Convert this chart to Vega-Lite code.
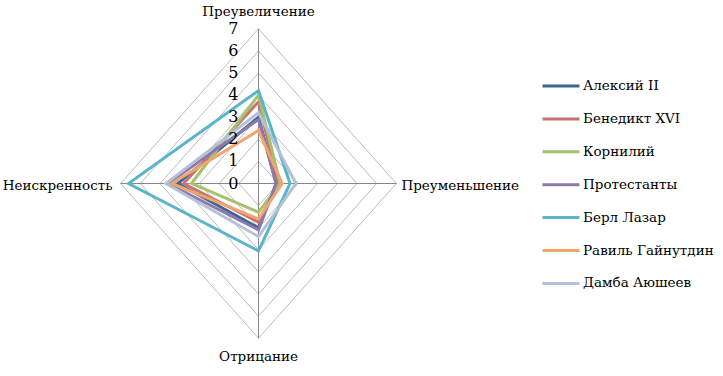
{
  "$schema": "https://vega.github.io/schema/vega-lite/v6.json",
  "width": 723,
  "height": 376,
  "autosize": "none",
  "padding": 0,
  "background": "white",
  "config": {"view": {"stroke": null}, "font": "DejaVu Serif"},
  "datasets": {
    "series": [
      {"s": "Алексий II", "ax": "Преувеличение", "o": 0, "v": 3.0},
      {"s": "Алексий II", "ax": "Преуменьшение", "o": 1, "v": 0.9},
      {"s": "Алексий II", "ax": "Отрицание", "o": 2, "v": 2.0},
      {"s": "Алексий II", "ax": "Неискренность", "o": 3, "v": 4.1},
      {"s": "Бенедикт XVI", "ax": "Преувеличение", "o": 0, "v": 3.7},
      {"s": "Бенедикт XVI", "ax": "Преуменьшение", "o": 1, "v": 1.0},
      {"s": "Бенедикт XVI", "ax": "Отрицание", "o": 2, "v": 1.75},
      {"s": "Бенедикт XVI", "ax": "Неискренность", "o": 3, "v": 3.8},
      {"s": "Корнилий", "ax": "Преувеличение", "o": 0, "v": 4.0},
      {"s": "Корнилий", "ax": "Преуменьшение", "o": 1, "v": 1.1},
      {"s": "Корнилий", "ax": "Отрицание", "o": 2, "v": 1.3},
      {"s": "Корнилий", "ax": "Неискренность", "o": 3, "v": 3.4},
      {"s": "Протестанты", "ax": "Преувеличение", "o": 0, "v": 2.9},
      {"s": "Протестанты", "ax": "Преуменьшение", "o": 1, "v": 0.9},
      {"s": "Протестанты", "ax": "Отрицание", "o": 2, "v": 2.1},
      {"s": "Протестанты", "ax": "Неискренность", "o": 3, "v": 4.6},
      {"s": "Берл Лазар", "ax": "Преувеличение", "o": 0, "v": 4.2},
      {"s": "Берл Лазар", "ax": "Преуменьшение", "o": 1, "v": 1.6},
      {"s": "Берл Лазар", "ax": "Отрицание", "o": 2, "v": 3.05},
      {"s": "Берл Лазар", "ax": "Неискренность", "o": 3, "v": 6.6},
      {"s": "Равиль Гайнутдин", "ax": "Преувеличение", "o": 0, "v": 2.4},
      {"s": "Равиль Гайнутдин", "ax": "Преуменьшение", "o": 1, "v": 1.2},
      {"s": "Равиль Гайнутдин", "ax": "Отрицание", "o": 2, "v": 1.6},
      {"s": "Равиль Гайнутдин", "ax": "Неискренность", "o": 3, "v": 4.4},
      {"s": "Дамба Аюшеев", "ax": "Преувеличение", "o": 0, "v": 3.2},
      {"s": "Дамба Аюшеев", "ax": "Преуменьшение", "o": 1, "v": 1.9},
      {"s": "Дамба Аюшеев", "ax": "Отрицание", "o": 2, "v": 2.4},
      {"s": "Дамба Аюшеев", "ax": "Неискренность", "o": 3, "v": 4.7}
    ],
    "grid": [
      {"v": 1, "ax": "Преувеличение", "o": 0}, {"v": 1, "ax": "Преуменьшение", "o": 1}, {"v": 1, "ax": "Отрицание", "o": 2}, {"v": 1, "ax": "Неискренность", "o": 3},
      {"v": 2, "ax": "Преувеличение", "o": 0}, {"v": 2, "ax": "Преуменьшение", "o": 1}, {"v": 2, "ax": "Отрицание", "o": 2}, {"v": 2, "ax": "Неискренность", "o": 3},
      {"v": 3, "ax": "Преувеличение", "o": 0}, {"v": 3, "ax": "Преуменьшение", "o": 1}, {"v": 3, "ax": "Отрицание", "o": 2}, {"v": 3, "ax": "Неискренность", "o": 3},
      {"v": 4, "ax": "Преувеличение", "o": 0}, {"v": 4, "ax": "Преуменьшение", "o": 1}, {"v": 4, "ax": "Отрицание", "o": 2}, {"v": 4, "ax": "Неискренность", "o": 3},
      {"v": 5, "ax": "Преувеличение", "o": 0}, {"v": 5, "ax": "Преуменьшение", "o": 1}, {"v": 5, "ax": "Отрицание", "o": 2}, {"v": 5, "ax": "Неискренность", "o": 3},
      {"v": 6, "ax": "Преувеличение", "o": 0}, {"v": 6, "ax": "Преуменьшение", "o": 1}, {"v": 6, "ax": "Отрицание", "o": 2}, {"v": 6, "ax": "Неискренность", "o": 3},
      {"v": 7, "ax": "Преувеличение", "o": 0}, {"v": 7, "ax": "Преуменьшение", "o": 1}, {"v": 7, "ax": "Отрицание", "o": 2}, {"v": 7, "ax": "Неискренность", "o": 3}
    ],
    "spokes": [
      {"v": 7, "ax": "Преувеличение"}, {"v": 7, "ax": "Преуменьшение"}, {"v": 7, "ax": "Отрицание"}, {"v": 7, "ax": "Неискренность"}
    ],
    "ticks": [
      {"t": 0}, {"t": 1}, {"t": 2}, {"t": 3}, {"t": 4}, {"t": 5}, {"t": 6}, {"t": 7}
    ],
    "labels": [
      {"t": "Преувеличение", "ax": "Преувеличение", "v": 7},
      {"t": "Преуменьшение", "ax": "Преуменьшение", "v": 7},
      {"t": "Отрицание", "ax": "Отрицание", "v": 7},
      {"t": "Неискренность", "ax": "Неискренность", "v": 7}
    ]
  },
  "layer": [
    {
      "data": {"name": "grid"},
      "transform": [
        {"calculate": "datum.ax === 'Преуменьшение' ? datum.v : (datum.ax === 'Неискренность' ? -datum.v : 0)", "as": "px"},
        {"calculate": "datum.ax === 'Преувеличение' ? datum.v : (datum.ax === 'Отрицание' ? -datum.v : 0)", "as": "py"}
      ],
      "mark": {"type": "line", "interpolate": "linear-closed", "stroke": "#A8A8A8", "strokeWidth": 0.8},
      "encoding": {
        "x": {"field": "px", "type": "quantitative", "scale": {"domain": [-13.122, 23.579], "nice": false, "zero": false}, "axis": null},
        "y": {"field": "py", "type": "quantitative", "scale": {"domain": [-8.71, 8.303], "nice": false, "zero": false}, "axis": null},
        "detail": {"field": "v", "type": "nominal"},
        "order": {"field": "o", "type": "quantitative"}
      }
    },
    {
      "data": {"name": "spokes"},
      "transform": [
        {"calculate": "datum.ax === 'Преуменьшение' ? datum.v : (datum.ax === 'Неискренность' ? -datum.v : 0)", "as": "px"},
        {"calculate": "datum.ax === 'Преувеличение' ? datum.v : (datum.ax === 'Отрицание' ? -datum.v : 0)", "as": "py"},
        {"calculate": "0", "as": "z"}
      ],
      "mark": {"type": "rule", "stroke": "#868686", "strokeWidth": 1},
      "encoding": {
        "x": {"field": "z", "type": "quantitative", "scale": {"domain": [-13.122, 23.579], "nice": false, "zero": false}, "axis": null},
        "y": {"field": "z", "type": "quantitative", "scale": {"domain": [-8.71, 8.303], "nice": false, "zero": false}, "axis": null},
        "x2": {"field": "px"},
        "y2": {"field": "py"}
      }
    },
    {
      "data": {"name": "series"},
      "transform": [
        {"calculate": "datum.ax === 'Преуменьшение' ? datum.v : (datum.ax === 'Неискренность' ? -datum.v : 0)", "as": "px"},
        {"calculate": "datum.ax === 'Преувеличение' ? datum.v : (datum.ax === 'Отрицание' ? -datum.v : 0)", "as": "py"}
      ],
      "mark": {"type": "line", "interpolate": "linear-closed", "strokeWidth": 3, "strokeJoin": "miter"},
      "encoding": {
        "x": {"field": "px", "type": "quantitative", "scale": {"domain": [-13.122, 23.579], "nice": false, "zero": false}, "axis": null},
        "y": {"field": "py", "type": "quantitative", "scale": {"domain": [-8.71, 8.303], "nice": false, "zero": false}, "axis": null},
        "order": {"field": "o", "type": "quantitative"},
        "color": {
          "field": "s",
          "type": "nominal",
          "scale": {
            "domain": ["Алексий II", "Бенедикт XVI", "Корнилий", "Протестанты", "Берл Лазар", "Равиль Гайнутдин", "Дамба Аюшеев"],
            "range": ["#3D6592", "#C77372", "#A6C26A", "#8B79AE", "#5CB4CB", "#F3A36E", "#B3C1D6"]
          },
          "legend": {
            "orient": "none",
            "legendX": 541,
            "legendY": 66,
            "title": null,
            "symbolType": "stroke",
            "symbolSize": 1369,
            "symbolStrokeWidth": 3,
            "labelFont": "DejaVu Serif",
            "labelFontSize": 13.5,
            "labelColor": "black",
            "labelLimit": 0,
            "labelOffset": 2,
            "rowPadding": 5.9
          }
        }
      }
    },
    {
      "data": {"name": "ticks"},
      "mark": {"type": "text", "align": "right", "baseline": "middle", "dx": -20, "fontSize": 16, "font": "DejaVu Serif", "color": "black"},
      "encoding": {
        "x": {"datum": 0, "type": "quantitative", "scale": {"domain": [-13.122, 23.579], "nice": false, "zero": false}, "axis": null},
        "y": {"field": "t", "type": "quantitative", "scale": {"domain": [-8.71, 8.303], "nice": false, "zero": false}, "axis": null},
        "text": {"field": "t", "type": "quantitative"}
      }
    },
    {
      "data": {"name": "labels"},
      "transform": [{"filter": "datum.ax === 'Преувеличение'"}, {"calculate": "0", "as": "px"}],
      "mark": {"type": "text", "align": "center", "baseline": "middle", "dy": -17, "fontSize": 13.5, "font": "DejaVu Serif", "color": "black"},
      "encoding": {
        "x": {"field": "px", "type": "quantitative", "scale": {"domain": [-13.122, 23.579], "nice": false, "zero": false}, "axis": null},
        "y": {"field": "v", "type": "quantitative", "scale": {"domain": [-8.71, 8.303], "nice": false, "zero": false}, "axis": null},
        "text": {"field": "t", "type": "nominal"}
      }
    },
    {
      "data": {"name": "labels"},
      "transform": [{"filter": "datum.ax === 'Преуменьшение'"}, {"calculate": "0", "as": "py"}],
      "mark": {"type": "text", "align": "left", "baseline": "middle", "dx": 5, "dy": 2, "fontSize": 13.5, "font": "DejaVu Serif", "color": "black"},
      "encoding": {
        "x": {"field": "v", "type": "quantitative", "scale": {"domain": [-13.122, 23.579], "nice": false, "zero": false}, "axis": null},
        "y": {"field": "py", "type": "quantitative", "scale": {"domain": [-8.71, 8.303], "nice": false, "zero": false}, "axis": null},
        "text": {"field": "t", "type": "nominal"}
      }
    },
    {
      "data": {"name": "labels"},
      "transform": [{"filter": "datum.ax === 'Отрицание'"}, {"calculate": "0", "as": "px"}, {"calculate": "-datum.v", "as": "py"}],
      "mark": {"type": "text", "align": "center", "baseline": "middle", "dy": 19, "fontSize": 13.5, "font": "DejaVu Serif", "color": "black"},
      "encoding": {
        "x": {"field": "px", "type": "quantitative", "scale": {"domain": [-13.122, 23.579], "nice": false, "zero": false}, "axis": null},
        "y": {"field": "py", "type": "quantitative", "scale": {"domain": [-8.71, 8.303], "nice": false, "zero": false}, "axis": null},
        "text": {"field": "t", "type": "nominal"}
      }
    },
    {
      "data": {"name": "labels"},
      "transform": [{"filter": "datum.ax === 'Неискренность'"}, {"calculate": "-datum.v", "as": "px"}, {"calculate": "0", "as": "py"}],
      "mark": {"type": "text", "align": "right", "baseline": "middle", "dx": -8, "dy": 2, "fontSize": 13.5, "font": "DejaVu Serif", "color": "black"},
      "encoding": {
        "x": {"field": "px", "type": "quantitative", "scale": {"domain": [-13.122, 23.579], "nice": false, "zero": false}, "axis": null},
        "y": {"field": "py", "type": "quantitative", "scale": {"domain": [-8.71, 8.303], "nice": false, "zero": false}, "axis": null},
        "text": {"field": "t", "type": "nominal"}
      }
    }
  ]
}
